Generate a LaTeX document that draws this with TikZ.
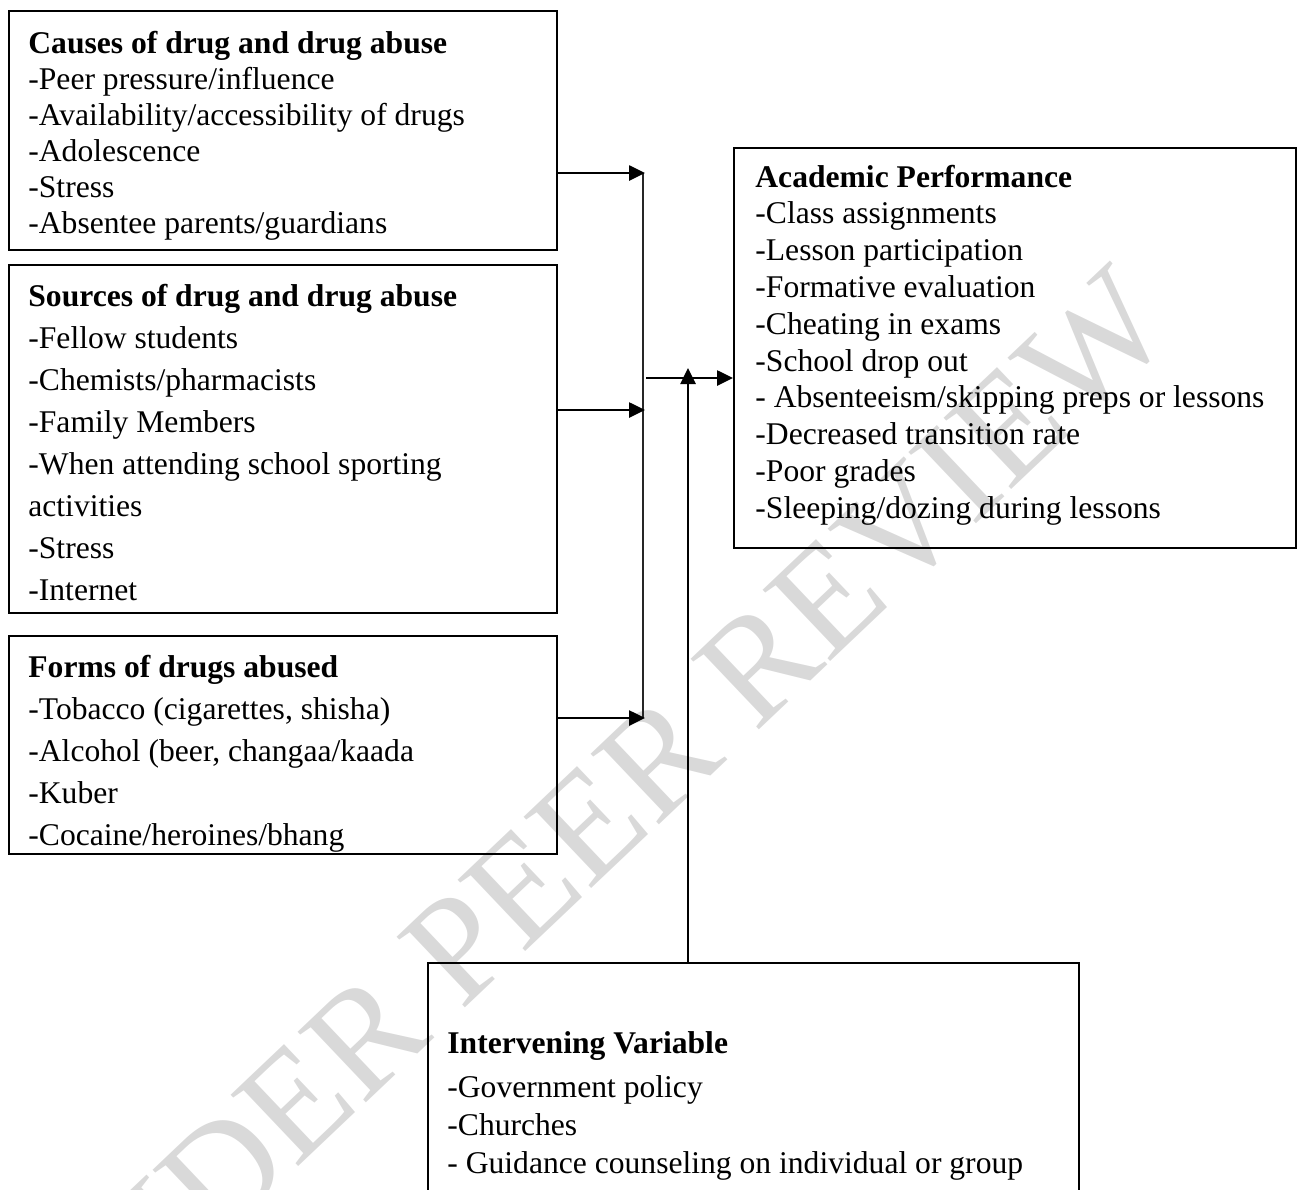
\documentclass[tikz,border=0pt]{standalone}
\usepackage{fontspec}
\setmainfont{Liberation Serif}
\usetikzlibrary{arrows.meta,calc,positioning}
\tikzstyle{varbox}=[draw, line width=0.9pt, anchor=north west, inner sep=0pt]
% lists are placed by the baseline of their last line
\tikzstyle{itemlist}=[anchor=base west, align=left, inner sep=0pt]
\tikzstyle{line}=[draw, line width=1.3pt, -{Triangle[length=8pt,width=7.5pt]}]
\tikzstyle{joint}=[draw, line width=0.7pt, color=black!85]
\tikzstyle{stamp}=[color=black!15, rotate=43.5, inner sep=0pt,
  font=\fontsize{75}{75}\selectfont]
\newcommand{\itemfont}[1]{\fontsize{15.8}{#1}\selectfont}

\begin{document}
\begin{tikzpicture}[x=1pt,y=-1pt]
  \useasboundingbox (0,0) rectangle (649.5,594.5);
  \clip (0,0) rectangle (649.5,594.5);

  % watermark behind everything
  \node[stamp] (stamp) at (293,414) {UNDER PEER REVIEW};

  % independent variables
  \node[varbox, minimum width=274pt, minimum height=119.5pt] (causes) at (4,5) {};
  \node[itemlist, font=\itemfont{18}] (causeslist) at ($(causes.north west)+(10,111.5)$)
    {\textbf{Causes of drug and drug abuse}\\-Peer pressure/influence\\
     -Availability/accessibility of drugs\\-Adolescence\\-Stress\\
     -Absentee parents/guardians};

  \node[varbox, minimum width=274pt, minimum height=174pt] (sources) at (4,132) {};
  \node[itemlist, font=\itemfont{21}] (sourceslist) at ($(sources.north west)+(10,168)$)
    {\textbf{Sources of drug and drug abuse}\\-Fellow students\\
     -Chemists/pharmacists\\-Family Members\\
     -When attending school sporting\\activities\\-Stress\\-Internet};

  \node[varbox, minimum width=274pt, minimum height=109pt] (forms) at (4,317.5) {};
  \node[itemlist, font=\itemfont{21.1}] (formslist) at ($(forms.north west)+(10,105.4)$)
    {\textbf{Forms of drugs abused}\\-Tobacco (cigarettes, shisha)\\
     -Alcohol (beer, changaa/kaada\\-Kuber\\-Cocaine/heroines/bhang};

  % dependent variable
  \node[varbox, minimum width=281pt, minimum height=200pt] (perf) at (366.5,73.5) {};
  \node[itemlist, font=\itemfont{18.4}] (perflist) at ($(perf.north west)+(11,185.6)$)
    {\textbf{Academic Performance}\\-Class assignments\\-Lesson participation\\
     -Formative evaluation\\-Cheating in exams\\-School drop out\\
     - Absenteeism/skipping preps or lessons\\-Decreased transition rate\\
     -Poor grades\\-Sleeping/dozing during lessons};

  % intervening variable (runs off the page)
  \node[varbox, minimum width=325.5pt, minimum height=140pt] (intervene) at (213.5,481) {};
  \node[itemlist, font=\itemfont{19}] (intervenelist) at ($(intervene.north west)+(10,105.5)$)
    {\textbf{Intervening Variable}\\[3pt]-Government policy\\-Churches\\
     - Guidance counseling on individual or group};

  % junction points
  \coordinate (jtop) at (321.5,86.5);
  \coordinate (jmid) at (321.5,205);
  \coordinate (jbot) at (321.5,359);
  \coordinate (jout) at (323,189);
  \coordinate (jup) at (344,184);

  %Draw arrows between elements
  \path [joint] (jtop) -- (jbot);
  \path [line] (causes.east |- jtop) -- ($(jtop)+(1,0)$);
  \path [line] (sources.east |- jmid) -- ($(jmid)+(1,0)$);
  \path [line] (forms.east |- jbot) -- ($(jbot)+(1,0)$);
  \path [line] (jout) -- (perf.west |- jout);
  \path [line] (intervene.north -| jup) -- (jup);

\end{tikzpicture}
\end{document}
